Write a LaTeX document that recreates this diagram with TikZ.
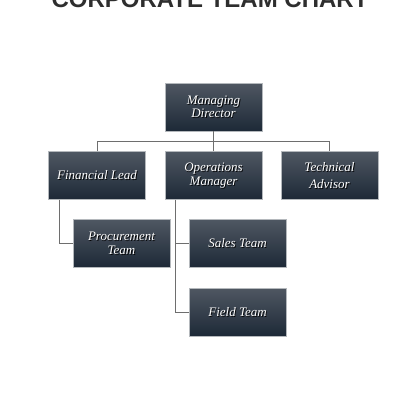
\documentclass[tikz,border=0pt]{standalone}
\usepackage{fontspec}
\setmainfont{Liberation Serif}
\setsansfont{Liberation Sans}
\usetikzlibrary{calc}
\definecolor{boxtop}{HTML}{4F5762}
\definecolor{boxbot}{HTML}{1D2937}
\definecolor{boxedge}{HTML}{B4B8BC}
\definecolor{linegray}{HTML}{6E6E6E}
\definecolor{titlegray}{HTML}{2E2E2E}
\tikzset{
  boxst/.style={draw=boxedge, line width=0.6pt, top color=boxtop, bottom color=boxbot,
    minimum width=97pt, minimum height=48pt, inner sep=0pt},
  txt/.style={text=white, font=\fontsize{13}{13.5}\selectfont\itshape, align=center, inner sep=0pt},
  txtsh/.style={txt, text=black, opacity=0.9},
  conn/.style={draw=linegray, line width=0.7pt},
}
\newcommand\orgbox[3]{%
  \node[boxst] (#1) at (#2) {};
  \node[txtsh] (#1s) at ([xshift=0.9pt,yshift=-0.9pt]#1.center) {#3};
  \node[txt] (#1t) at (#1.center) {#3};
}
\begin{document}
\begin{tikzpicture}[x=1pt,y=-1pt]
\useasboundingbox (0,0) rectangle (420,420);
\clip (0,0) rectangle (420,420);
\fill[white] (0,0) rectangle (420,420);
\node[anchor=base, text=titlegray, font=\sffamily\bfseries\fontsize{24}{28}\selectfont, inner sep=0pt] (title) at (210,8) {CORPORATE TEAM CHART};

\coordinate (bus) at (0,141);
\coordinate (flx) at (59,0);
\coordinate (omx) at (175.5,0);

\orgbox{md}{213.5,107}{Managing\\Director}
\orgbox{fl}{97,175.5}{Financial Lead}
\orgbox{om}{213.5,175.5}{Operations\\Manager}
\orgbox{ta}{329.5,175.5}{Technical\\[3pt]Advisor}
\orgbox{pt}{121.5,243.5}{Procurement\\Team}
\orgbox{st}{237.5,243.5}{Sales Team}
\orgbox{ft}{237.5,312}{Field Team}

\draw[conn] (md.south) -- (md.south |- bus);
\draw[conn] (fl.north) -- (fl.north |- bus) -- (ta.north |- bus) -- (ta.north);
\draw[conn] (om.north |- bus) -- (om.north);
\draw[conn] (fl.south -| flx) |- (pt.west);
\draw[conn] (om.south -| omx) |- (st.west);
\draw[conn] (om.south -| omx) |- (ft.west);
\end{tikzpicture}
\end{document}
